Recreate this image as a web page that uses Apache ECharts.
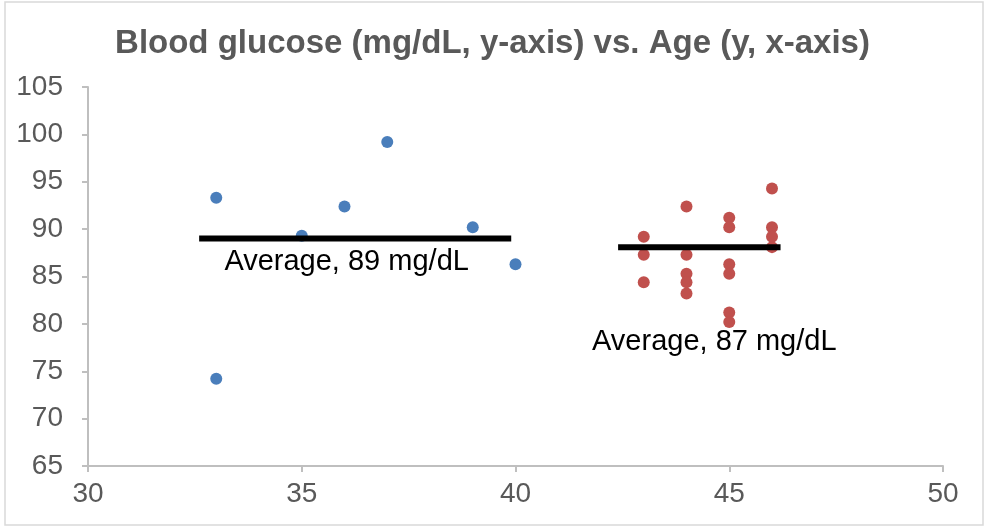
<!DOCTYPE html>
<html>
<head>
<meta charset="utf-8">
<script src="https://cdn.jsdelivr.net/npm/echarts@6/dist/echarts.min.js"></script>
<style>
html,body{margin:0;padding:0;background:#fff;}
#chart{width:985px;height:527px;}
</style>
</head>
<body>
<div id="chart"></div>
<script>
// ---- data ----
var titleText = 'Blood glucose (mg/dL, y-axis) vs. Age (y, x-axis)';
var xTicks = [30, 35, 40, 45, 50];
var yTicks = [65, 70, 75, 80, 85, 90, 95, 100, 105];

var groupAAges = [33, 33, 35, 36, 37, 39, 40];
var groupAGlucose = [93.3, 74.2, 89.3, 92.4, 99.2, 90.2, 86.3];

var groupBAges = [43, 43, 43, 44, 44, 44, 44, 44, 45, 45, 45, 45, 45, 45, 46, 46, 46, 46];
var groupBGlucose = [89.2, 87.3, 84.4, 92.4, 87.3, 85.3, 84.4, 83.2, 91.2, 90.2, 86.3, 85.3, 81.2, 80.2, 94.3, 90.2, 89.2, 88.1];

var avgALineX = [32.6, 39.9];
var avgALineY = [89.0, 89.0];
var avgBLineX = [42.4, 46.2];
var avgBLineY = [88.1, 88.1];

var avgLabels = ['Average, 89 mg/dL', 'Average, 87 mg/dL'];
var avgLabelX = [36.05, 44.65];
var avgLabelY = [86.5, 78.1];

// ---- build ----
function pairs(xs, ys) { return xs.map(function (x, i) { return [x, ys[i]]; }); }

var chart = echarts.init(document.getElementById('chart'));
var option = {
  backgroundColor: '#ffffff',
  animation: false,
  title: {
    text: titleText,
    left: 'center',
    top: 22,
    textStyle: { fontFamily: 'Liberation Sans, Arial, sans-serif', fontSize: 33, fontWeight: 'bold', color: '#595959' }
  },
  grid: { left: 88, right: 42, top: 87, bottom: 61, containLabel: false },
  xAxis: {
    type: 'value', min: xTicks[0], max: xTicks[xTicks.length - 1], interval: 5,
    axisLine: { show: true, lineStyle: { color: '#bfbfbf', width: 2 } },
    axisTick: { show: true, length: 6, lineStyle: { color: '#bfbfbf', width: 2 } },
    splitLine: { show: false },
    axisLabel: { margin: 14, color: '#595959', fontSize: 28, fontFamily: 'Liberation Sans, Arial, sans-serif' }
  },
  yAxis: {
    type: 'value', min: yTicks[0], max: yTicks[yTicks.length - 1], interval: 5,
    axisLine: { show: true, lineStyle: { color: '#bfbfbf', width: 2 } },
    axisTick: { show: true, length: 6, lineStyle: { color: '#bfbfbf', width: 2 } },
    splitLine: { show: false },
    axisLabel: { margin: 25, color: '#595959', fontSize: 28, fontFamily: 'Liberation Sans, Arial, sans-serif' }
  },
  graphic: [{
    type: 'rect', silent: true, z: -10,
    shape: { x: 5, y: 2, width: 978, height: 523 },
    style: { fill: 'none', stroke: '#d9d9d9', lineWidth: 1.5 }
  }],
  series: [
    {
      type: 'scatter', data: pairs(groupAAges, groupAGlucose), symbolSize: 12,
      itemStyle: { color: '#4a7ebb', opacity: 1 }, z: 2
    },
    {
      type: 'scatter', data: pairs(groupBAges, groupBGlucose), symbolSize: 12,
      itemStyle: { color: '#c0504d', opacity: 1 }, z: 2
    },
    {
      type: 'line', data: pairs(avgALineX, avgALineY), symbol: 'none',
      lineStyle: { color: '#000000', width: 6 }, z: 3
    },
    {
      type: 'line', data: pairs(avgBLineX, avgBLineY), symbol: 'none',
      lineStyle: { color: '#000000', width: 6 }, z: 3
    },
    {
      type: 'scatter', symbolSize: 1, itemStyle: { color: 'rgba(0,0,0,0)' }, z: 4,
      data: avgLabels.map(function (t, i) { return { name: t, value: [avgLabelX[i], avgLabelY[i]] }; }),
      label: {
        show: true, position: 'inside', formatter: '{b}',
        color: '#000000', fontSize: 29, fontFamily: 'Liberation Sans, Arial, sans-serif',
        textBorderWidth: 0, opacity: 1,
        align: 'center', verticalAlign: 'middle'
      }
    }
  ]
};
chart.setOption(option);
</script>
</body>
</html>
